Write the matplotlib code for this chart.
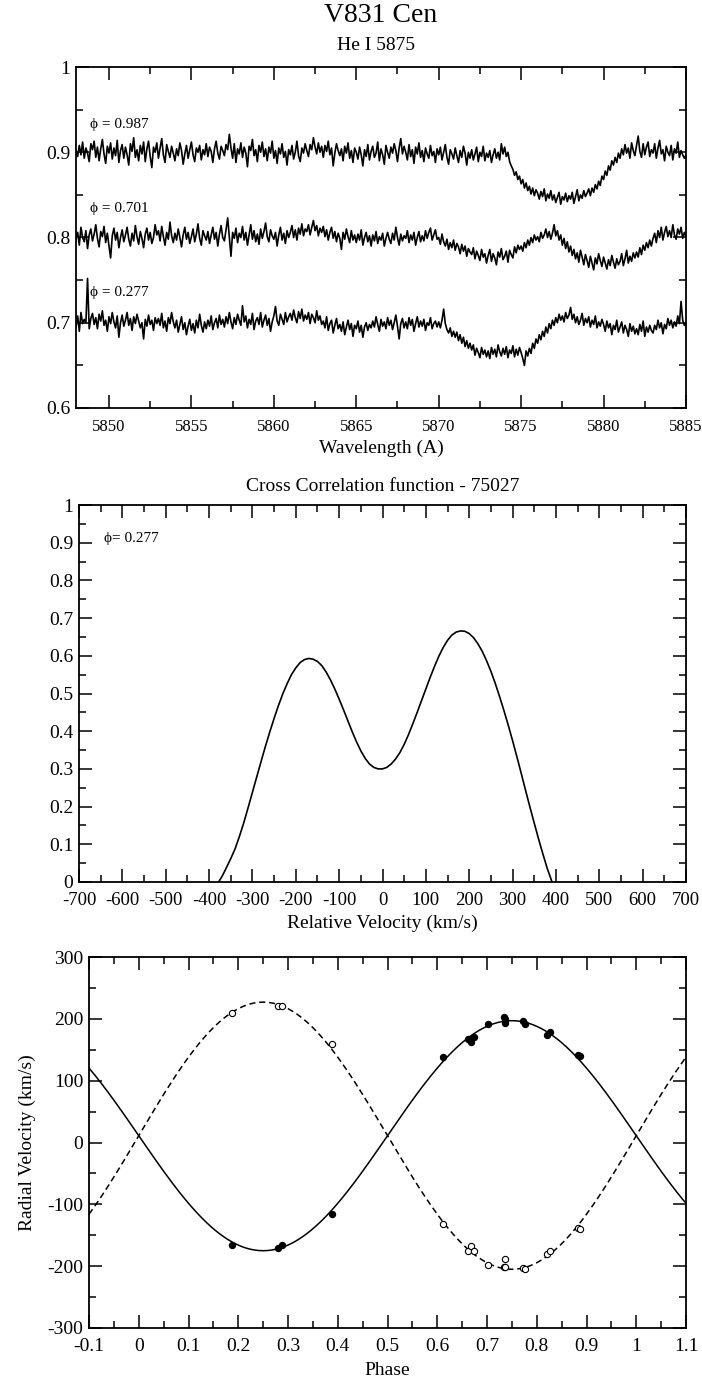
import numpy as np
import matplotlib
matplotlib.use("Agg")
import matplotlib.pyplot as plt
from matplotlib.ticker import MultipleLocator, FuncFormatter

plt.rcParams["font.family"] = ["Liberation Serif", "DejaVu Serif"]
plt.rcParams["axes.unicode_minus"] = False

# ---------------------------------------------------------------- data
# He I 5875 spectra, flux in units of 0.001, sampled every 0.1 A from 5848.0 A
WAVE_START = 5848.0
WAVE_STEP = 0.1

flux_0987 = [
    902, 895, 908, 897, 912, 893, 905, 899, 889, 910,
    903, 913, 894, 906, 890, 904, 915, 898, 887, 907,
    899, 911, 892, 905, 896, 914, 888, 902, 909, 893,
    906, 897, 885, 910, 901, 917, 894, 903, 890, 908,
    898, 912, 889, 904, 913, 895, 882, 906, 900, 911,
    893, 905, 916, 897, 888, 909, 901, 894, 907, 899,
    890, 904, 896, 911, 902, 886, 898, 908, 893, 903,
    912, 897, 889, 905, 900, 908, 891, 903, 897, 910,
    895, 906, 901, 888, 904, 913, 899, 892, 907, 902,
    896, 909, 903, 921, 905, 893, 910, 888, 904, 898,
    911, 894, 906, 899, 883, 907, 902, 915, 896, 903,
    889, 908, 900, 912, 895, 904, 890, 906, 899, 913,
    893, 902, 887, 905, 898, 910, 894, 901, 885, 903,
    897, 908, 892, 900, 913, 896, 889, 905, 899, 910,
    902, 895, 909, 903, 917, 906, 898, 911, 900, 907,
    894, 908, 901, 913, 897, 905, 884, 899, 910, 902,
    896, 904, 890, 907, 899, 911, 893, 902, 888, 905,
    900, 892, 906, 897, 884, 903, 895, 909, 891, 901,
    907, 894, 899, 912, 890, 904, 897, 886, 908, 900,
    893, 906, 899, 910, 902, 889, 905, 916, 898, 907,
    900, 891, 909, 895, 903, 887, 906, 898, 911, 894,
    902, 889, 905, 898, 893, 908, 896, 901, 888, 904,
    897, 906, 891, 900, 909, 894, 886, 903, 898, 892,
    905, 896, 888, 902, 894, 907, 899, 885, 900, 893,
    903, 891, 898, 906, 889, 900, 895, 907, 890, 899,
    894, 902, 888, 897, 904, 893, 900, 891, 910, 898,
    906, 895, 900, 889, 884, 880, 873, 877, 868, 872,
    863, 868, 858, 864, 855, 860, 851, 858, 849, 856,
    852, 845, 854, 848, 857, 843, 851, 846, 855, 844,
    850, 841, 847, 853, 839, 848, 844, 852, 842, 849,
    845, 853, 840, 848, 856, 843, 850, 846, 855, 848,
    852, 857, 849, 858, 853, 862, 857, 866, 861, 872,
    868, 878, 873, 884, 879, 890, 885, 894, 888, 899,
    893, 904, 897, 909, 899, 905, 893, 911, 902, 896,
    908, 919, 901, 894, 910, 897, 906, 912, 895, 903,
    899, 910, 893, 905, 914, 898, 903, 890, 907, 900,
    896, 908, 891, 904, 899, 912, 894, 902, 897, 893,
    897,
]

flux_0701 = [
    798, 806, 791, 812, 800, 795, 808, 787, 803, 810,
    796, 804, 815, 799, 789, 807, 801, 813, 794, 805,
    790, 776, 802, 811, 797, 806, 788, 800, 809, 795,
    803, 812, 798, 790, 805, 796, 814, 801, 792, 807,
    799, 788, 804, 811, 797, 806, 793, 800, 815, 803,
    808, 796, 813, 801, 791, 806, 798, 818, 802, 794,
    805, 797, 810, 800, 789, 803, 812, 798, 806, 793,
    801, 810, 795, 804, 816, 799, 791, 808, 802, 797,
    807, 793, 803, 812, 798, 806, 790, 804, 814, 800,
    796, 809, 823, 801, 778, 806, 799, 811, 794, 805,
    800, 813, 797, 806, 791, 803, 815, 798, 808, 795,
    804, 792, 810, 799, 807, 817, 801, 795, 809, 802,
    798, 806, 790, 803, 812, 797, 805, 793, 808, 800,
    806, 814, 800, 809, 797, 811, 804, 816, 802, 810,
    807, 815, 803, 812, 820, 808, 814, 802, 811, 806,
    813, 801, 809, 797, 806, 812, 799, 807, 795, 805,
    799, 786, 806, 798, 810, 801, 794, 808, 797, 803,
    794, 804, 797, 809, 791, 800, 806, 795, 802, 790,
    803, 796, 807, 793, 801, 797, 805, 790, 799, 806,
    798, 793, 805, 797, 812, 800, 791, 804, 796, 802,
    799, 808, 794, 803, 797, 806, 791, 800, 807, 795,
    802, 796, 808, 799, 806, 811, 797, 803, 809, 798,
    800, 792, 804, 795, 790, 798, 786, 794, 788, 797,
    785, 793, 789, 781, 792, 784, 790, 778, 787, 783,
    780, 788, 775, 784, 779, 773, 786, 777, 781, 770,
    779, 786, 772, 781, 776, 768, 783, 777, 787, 774,
    778, 784, 771, 785, 780, 776, 789, 782, 791, 786,
    790, 784, 794, 788, 797, 791, 800, 794, 803, 797,
    801, 795, 806, 799, 803, 810, 800, 807, 798, 805,
    815, 802, 808, 797, 803, 791, 799, 787, 795, 783,
    790, 779, 786, 775, 782, 771, 785, 777, 768, 780,
    773, 765, 778, 770, 762, 776, 769, 781, 773, 766,
    777, 770, 763, 774, 767, 779, 771, 764, 775, 768,
    772, 781, 767, 775, 785, 770, 778, 772, 782, 776,
    783, 777, 788, 780, 791, 785, 794, 788, 797, 790,
    799, 805, 794, 808, 800, 812, 797, 806, 813, 801,
    808, 800, 815, 803, 798, 810, 804, 812, 799, 806,
    801,
]

flux_0277 = [
    695, 708, 690, 712, 699, 704, 700, 752, 693, 705,
    711, 698, 706, 693, 710, 702, 714, 697, 703, 690,
    707, 699, 712, 701, 694, 708, 683, 700, 709, 696,
    703, 712, 697, 705, 691, 707, 699, 710, 702, 694,
    700, 681, 704, 696, 709, 698, 703, 691, 706, 699,
    705, 697, 711, 694, 702, 690, 706, 699, 712, 701,
    694, 703, 689, 698, 707, 692, 700, 686, 696, 704,
    691, 699, 688, 703, 694, 710, 697, 689, 701, 693,
    703, 696, 708, 692, 700, 705, 694, 709, 698, 704,
    695, 707, 699, 712, 701, 693, 706, 698, 710, 703,
    697, 720, 701, 708, 694, 704, 698, 711, 692, 702,
    706, 698, 712, 695, 703, 709, 697, 705, 690, 701,
    708, 719, 702, 697, 710, 704, 698, 712, 701, 707,
    711, 703, 715, 706, 700, 713, 705, 716, 702, 709,
    704, 712, 699, 710, 706, 700, 714, 703, 708, 698,
    702, 694, 707, 691, 699, 703, 688, 697, 705, 693,
    698, 690, 701, 686, 695, 703, 692, 699, 684, 697,
    693, 702, 689, 697, 683, 695, 700, 691, 698, 694,
    702, 695, 707, 698, 690, 704, 696, 701, 693, 706,
    697, 703, 692, 700, 709, 696, 681, 699, 705, 694,
    701, 693, 706, 697, 704, 690, 699, 707, 695, 702,
    696, 704, 691, 700, 697, 706, 693, 699, 702, 695,
    701, 694, 703, 716, 699, 692, 688, 694, 684, 690,
    683, 689, 679, 686, 676, 683, 672, 679, 670, 676,
    668, 674, 662, 670, 665, 659, 671, 663, 668, 660,
    667, 658, 671, 663, 669, 660, 674, 666, 661, 670,
    663, 672, 659, 668, 664, 673, 660, 669, 662, 671,
    665, 658, 650, 667, 661, 670, 664, 676, 670, 681,
    676, 686, 680, 690, 684, 695, 688, 699, 693, 703,
    697, 706, 700, 710, 703, 708, 701, 712, 705, 709,
    718, 704, 710, 700, 707, 698, 703, 711, 697, 705,
    700, 707, 695, 703, 698, 708, 694, 701, 696, 704,
    698, 690, 702, 694, 699, 686, 697, 692, 703, 689,
    695, 701, 688, 697, 692, 684, 699, 690, 696, 687,
    693, 686, 698, 690, 702, 684, 695, 689, 697, 691,
    688, 697, 692, 703, 694, 700, 687, 698, 693, 705,
    697, 703, 694, 701, 696, 708, 699, 725, 703, 697,
    700,
]

spectra = [("0.987", flux_0987, 0.932),
           ("0.701", flux_0701, 0.834),
           ("0.277", flux_0277, 0.735)]

# Cross correlation function at phase 0.277
ccf_velocity = [-378, -370, -360, -350, -340, -330, -320, -310, -300, -290,
                -280, -270, -260, -250, -240, -230, -220, -210, -200, -190,
                -180, -170, -160, -150, -140, -130, -120, -110, -100, -90,
                -80, -70, -60, -50, -40, -30, -20, -10, 0, 10,
                20, 30, 40, 50, 60, 70, 80, 90, 100, 110,
                120, 130, 140, 150, 160, 170, 180, 190, 200, 210,
                220, 230, 240, 250, 260, 270, 280, 290, 300, 310,
                320, 330, 340, 350, 360, 370, 380, 391]
ccf_value = [0.000, 0.015, 0.038, 0.062, 0.088, 0.121, 0.157, 0.197, 0.238, 0.279,
             0.320, 0.360, 0.398, 0.434, 0.468, 0.499, 0.526, 0.550, 0.568, 0.582,
             0.590, 0.593, 0.591, 0.585, 0.574, 0.557, 0.536, 0.512, 0.485, 0.457,
             0.428, 0.399, 0.372, 0.348, 0.328, 0.313, 0.304, 0.300, 0.300, 0.304,
             0.313, 0.326, 0.343, 0.365, 0.391, 0.420, 0.450, 0.481, 0.512, 0.543,
             0.572, 0.599, 0.622, 0.641, 0.655, 0.663, 0.666, 0.665, 0.659, 0.648,
             0.632, 0.612, 0.587, 0.559, 0.527, 0.492, 0.455, 0.416, 0.375, 0.332,
             0.288, 0.243, 0.199, 0.156, 0.114, 0.074, 0.036, 0.000]

# Radial velocities (km/s) against orbital phase
phase_obs = [0.188, 0.280, 0.288, 0.388, 0.611, 0.662, 0.667, 0.673, 0.702,
             0.735, 0.736, 0.736, 0.772, 0.777, 0.820, 0.827, 0.883, 0.886]
rv_primary = [-165, -170, -165, -116, 138, 168, 163, 171, 191,
              203, 199, 193, 196, 191, 174, 178, 142, 140]
phase_sec = [0.188, 0.280, 0.288, 0.388, 0.611, 0.662, 0.668, 0.673, 0.702,
             0.736, 0.735, 0.736, 0.772, 0.777, 0.820, 0.827, 0.883, 0.886]
rv_secondary = [209, 221, 220, 159, -132, -176, -168, -175, -198,
                -188, -202, -201, -203, -205, -181, -176, -139, -140]

# Circular orbit solution
GAMMA = 11.0
K_PRIMARY = 186.0
K_SECONDARY = 216.0

# ---------------------------------------------------------------- figure
W, H = 702, 1382
fig = plt.figure(figsize=(W / 100, H / 100), dpi=100)


def frac(left, top, right, bottom):
    return [left / W, 1 - bottom / H, (right - left) / W, (bottom - top) / H]


def fmt(v, _pos):
    v = round(v, 6) + 0.0
    return f"{v:g}"


def style(ax, xmaj, xmin, ymaj, ymin, xsize=14, ysize=14, xpad=6):
    ax.xaxis.set_major_locator(MultipleLocator(xmaj))
    ax.xaxis.set_minor_locator(MultipleLocator(xmin))
    ax.yaxis.set_major_locator(MultipleLocator(ymaj))
    ax.yaxis.set_minor_locator(MultipleLocator(ymin))
    ax.xaxis.set_major_formatter(FuncFormatter(fmt))
    ax.yaxis.set_major_formatter(FuncFormatter(fmt))
    ax.tick_params(which="both", direction="in", top=True, right=True,
                   width=1.1, color="black")
    ax.tick_params(which="major", length=9.5)
    ax.tick_params(which="minor", length=5)
    ax.tick_params(axis="x", labelsize=xsize, pad=xpad)
    ax.tick_params(axis="y", labelsize=ysize, pad=4)
    for s in ax.spines.values():
        s.set_linewidth(1.3)


fig.text(381 / W, 1 - 16 / H, "V831 Cen", ha="center", va="center", fontsize=20)
fig.text(376 / W, 1 - 46 / H, "He I 5875", ha="center", va="center", fontsize=14)

PHI = "\u03d5"

# --- spectra
ax1 = fig.add_axes(frac(76, 67, 686, 408))
for label, flux, ylab in spectra:
    wave = WAVE_START + WAVE_STEP * np.arange(len(flux))
    ax1.plot(wave, np.asarray(flux) / 1000.0, color="black", lw=1.2)
    ax1.text(5848.85, ylab, PHI + " = " + label, fontsize=11, va="center", ha="left")
ax1.set_xlim(5848, 5885)
ax1.set_ylim(0.6, 1.0)
style(ax1, 5, 2.5, 0.1, 0.05, xsize=12, xpad=8)
ax1.set_xlabel("Wavelength (A)", fontsize=14, labelpad=3)

# --- cross correlation function
ax2 = fig.add_axes(frac(79, 505, 686, 882))
ax2.plot(ccf_velocity, ccf_value, color="black", lw=1.2)
ax2.set_xlim(-700, 700)
ax2.set_ylim(0, 1)
style(ax2, 100, 50, 0.1, 0.05, xsize=13.5, xpad=7)
ax2.set_title("Cross Correlation function - 75027", fontsize=14, pad=10)
ax2.set_xlabel("Relative Velocity (km/s)", fontsize=14, labelpad=4)
ax2.text(-642, 0.912, PHI + "= 0.277", fontsize=11, va="center", ha="left")

# --- radial velocity curve
ax3 = fig.add_axes(frac(89, 957, 686, 1328))
ph = np.linspace(-0.1, 1.1, 600)
ax3.plot(ph, GAMMA - K_PRIMARY * np.sin(2 * np.pi * ph), color="black", lw=1.1)
ax3.plot(ph, GAMMA + K_SECONDARY * np.sin(2 * np.pi * ph), color="black", lw=1.1,
         dashes=(4, 2.5))
ax3.plot(phase_obs, rv_primary, "o", ms=4.5, mfc="black", mec="black", mew=0.8)
ax3.plot(phase_sec, rv_secondary, "o", ms=4.5, mfc="white", mec="black", mew=0.8)
ax3.set_xlim(-0.1, 1.1)
ax3.set_ylim(-300, 300)
style(ax3, 0.1, 0.05, 100, 50, xpad=7)
ax3.set_xlabel("Phase", fontsize=14, labelpad=5)
ax3.set_ylabel("Radial Velocity (km/s)", fontsize=14, labelpad=8)

fig.savefig("out.png", dpi=100)
